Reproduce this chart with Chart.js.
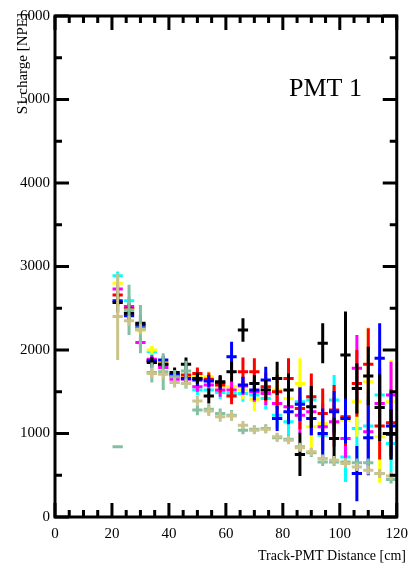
<!DOCTYPE html>
<html lang="en">
<head>
<meta charset="UTF-8">
<title>PMT 1 - S1 charge vs distance</title>
<style>
    body { margin: 0; background: #fff; }
</style>
<script src="https://cdn.jsdelivr.net/npm/chart.js"></script>
</head>
<body>
<canvas id="chart" width="416" height="568"></canvas>
<script>
// bin centres [cm], half bin width used for the horizontal bars
const distances = [22, 26, 30, 34, 38, 42, 46, 50, 54, 58, 62, 66, 70, 74, 78, 82, 86, 90, 94, 98, 102, 106, 110, 114, 118];
const HALF_BIN = 1.8;

const xTicks = [0, 20, 40, 60, 80, 100, 120];
const yTicks = [0, 1000, 2000, 3000, 4000, 5000, 6000];

// series values (NPE) and errors
const tanVals   = [2400, 2350, 2250, 1720, 1710, 1610, 1600, 1390, 1270, 1200, 1210, 1100, 1040, 1050, 960, 920, 830, 780, 700, 680, 640, 600, 560, 520, 490];
const tanErr    = [520, 60, 60, 60, 60, 60, 60, 60, 60, 60, 60, 50, 50, 50, 50, 50, 50, 50, 50, 50, 50, 50, 50, 50, 50];
const tealVals  = [840, 2480, 2250, 1730, 1740, 1680, 1750, 1280, 1290, 1240, 1220, 1040, 1050, 1060, 950, 930, 840, 770, 660, 660, 660, 650, 650, 520, 450];
const tealErr   = [0, 300, 290, 120, 220, 80, 120, 60, 60, 60, 60, 50, 50, 50, 50, 50, 50, 50, 50, 50, 50, 50, 50, 50, 50];
const blackVals = [2570, 2440, 2320, 1850, 1830, 1730, 1830, 1660, 1450, 1620, 1740, 2240, 1600, 1520, 1660, 1520, 750, 1320, 2080, 940, 1940, 1540, 1690, 1310, 990];
const blackErr  = [120, 80, 100, 60, 50, 60, 80, 70, 90, 70, 120, 140, 100, 120, 200, 200, 260, 250, 240, 250, 520, 300, 350, 400, 300];
const blueVals  = [2590, 2410, 2300, 1870, 1880, 1700, 1660, 1640, 1630, 1610, 1920, 1580, 1520, 1640, 1180, 1260, 1350, 1180, 1000, 1260, 1180, 520, 950, 1900, 1090];
const blueErr   = [60, 60, 60, 50, 50, 60, 60, 70, 70, 90, 180, 100, 120, 160, 150, 150, 200, 200, 300, 250, 300, 330, 450, 420, 400];
const redVals   = [2660, 2500, 2260, 1870, 1830, 1700, 1700, 1720, 1650, 1580, 1450, 1740, 1740, 1560, 1500, 1660, 1300, 1440, 1240, 1280, 1200, 1600, 1830, 1090, 1130];
const redErr    = [50, 50, 50, 50, 50, 50, 60, 70, 80, 90, 100, 170, 160, 170, 200, 240, 250, 280, 300, 300, 350, 400, 430, 400, 400];
const magVals   = [2730, 2520, 2090, 1890, 1790, 1650, 1650, 1560, 1580, 1520, 1520, 1570, 1500, 1480, 1360, 1320, 1220, 1260, 1080, 1140, 940, 1780, 1020, 1360, 1460];
const magErr    = [50, 50, 50, 50, 50, 50, 60, 60, 70, 80, 100, 110, 120, 140, 160, 200, 220, 280, 280, 300, 330, 400, 400, 420, 400];
const yelVals   = [2800, 2490, 2230, 2000, 1860, 1720, 1680, 1680, 1680, 1560, 1560, 1520, 1410, 1500, 1520, 1420, 1600, 1080, 1120, 1130, 1160, 1380, 1620, 960, 1380];
const yelErr    = [50, 50, 50, 50, 50, 50, 60, 60, 70, 80, 100, 110, 140, 150, 200, 220, 300, 330, 320, 300, 350, 420, 650, 550, 500];
const cyanVals  = [2890, 2590, 2280, 1980, 1820, 1680, 1600, 1520, 1520, 1490, 1480, 1480, 1460, 1420, 1220, 1140, 1380, 1400, 980, 1400, 720, 1060, 1090, 1460, 880];
const cyanErr   = [50, 50, 50, 50, 50, 50, 60, 60, 60, 80, 90, 100, 110, 130, 160, 200, 220, 250, 280, 300, 300, 400, 450, 500, 400];

// turn value/error pairs into line segments (null breaks the line)
function crosses(vals, errs) {
    const pts = [];
    vals.forEach((v, i) => {
        const x = distances[i];
        pts.push({ x: x - HALF_BIN, y: v }, { x: x + HALF_BIN, y: v }, { x: x, y: null });
        pts.push({ x: x, y: v - errs[i] }, { x: x, y: v + errs[i] }, { x: x, y: null });
    });
    return pts;
}

function series(label, color, vals, errs) {
    return {
        label: label,
        data: crosses(vals, errs),
        borderColor: color,
        borderWidth: 3,
        borderCapStyle: "butt",
        pointRadius: 0,
        fill: false,
        tension: 0,
        spanGaps: false,
    };
}

// frame, inward ticks and texts in ROOT style
const rootFrame = {
    id: "rootFrame",
    afterDraw(chart) {
        const { ctx, chartArea: a, scales } = chart;
        const xs = scales.x, ys = scales.y;
        ctx.save();
        ctx.strokeStyle = "#000";
        ctx.lineWidth = 3;
        ctx.strokeRect(a.left, a.top, a.right - a.left, a.bottom - a.top);

        ctx.beginPath();
        for (let v = 0; v <= 120; v += 5) {
            const px = xs.getPixelForValue(v);
            const len = v % 20 === 0 ? 14 : 7;
            ctx.moveTo(px, a.bottom); ctx.lineTo(px, a.bottom - len);
            ctx.moveTo(px, a.top); ctx.lineTo(px, a.top + len);
        }
        for (let v = 0; v <= 6000; v += 500) {
            const py = ys.getPixelForValue(v);
            const len = v % 1000 === 0 ? 14 : 7;
            ctx.moveTo(a.left, py); ctx.lineTo(a.left + len, py);
            ctx.moveTo(a.right, py); ctx.lineTo(a.right - len, py);
        }
        ctx.stroke();

        ctx.fillStyle = "#000";
        ctx.font = "26px 'Liberation Serif'";
        ctx.textAlign = "left";
        ctx.textBaseline = "middle";
        ctx.fillText("PMT 1", 289, 89);

        ctx.font = "14px 'Liberation Serif'";
        ctx.textAlign = "right";
        ctx.fillText("Track-PMT Distance [cm]", 406, 556);

        ctx.font = "15px 'Liberation Serif'";
        ctx.translate(23, 13);
        ctx.rotate(-Math.PI / 2);
        ctx.textAlign = "right";
        ctx.fillText("S1 charge [NPE]", 0, 0);
        ctx.restore();
    }
};

new Chart(document.getElementById("chart"), {
    type: "line",
    data: {
        datasets: [
            series("tan", "#cbc38c", tanVals, tanErr),
            series("teal", "#82c0a2", tealVals, tealErr),
            series("black", "#000000", blackVals, blackErr),
            series("blue", "#0000ff", blueVals, blueErr),
            series("red", "#ff0000", redVals, redErr),
            series("magenta", "#ff00ff", magVals, magErr),
            series("yellow", "#ffff00", yelVals, yelErr),
            series("cyan", "#00ffff", cyanVals, cyanErr),
        ],
    },
    options: {
        responsive: false,
        animation: false,
        layout: { autoPadding: false, padding: { left: 0, right: 8, top: 16, bottom: 0 } },
        plugins: { legend: { display: false }, tooltip: { enabled: false } },
        scales: {
            x: {
                type: "linear",
                min: 0,
                max: 120,
                afterFit(scale) { scale.height = 51; },
                afterBuildTicks(scale) { scale.ticks = xTicks.map(v => ({ value: v })); },
                grid: { display: false, drawTicks: false },
                border: { display: false },
                ticks: {
                    padding: 8,
                    color: "#000",
                    font: { family: "'Liberation Serif'", size: 15 },
                    callback: v => String(v),
                },
            },
            y: {
                type: "linear",
                min: 0,
                max: 6000,
                afterFit(scale) { scale.width = 55; },
                afterBuildTicks(scale) { scale.ticks = yTicks.map(v => ({ value: v })); },
                grid: { display: false, drawTicks: false },
                border: { display: false },
                ticks: {
                    padding: 5,
                    color: "#000",
                    font: { family: "'Liberation Serif'", size: 15 },
                    callback: v => String(v),
                },
            },
        },
    },
    plugins: [rootFrame],
});
</script>
</body>
</html>
